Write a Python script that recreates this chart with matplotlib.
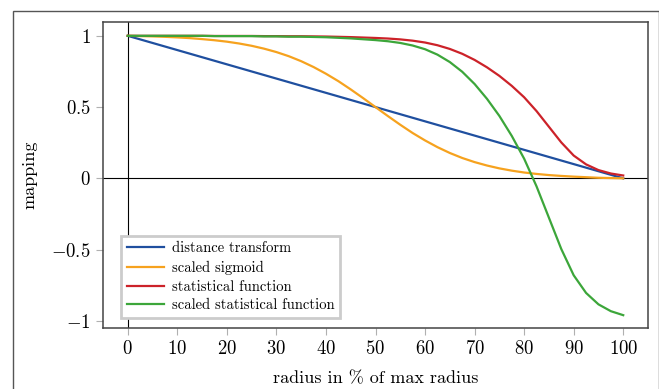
import matplotlib
matplotlib.use("Agg")
import matplotlib.pyplot as plt
from matplotlib.patches import Rectangle

plt.rcParams['font.family'] = 'serif'
plt.rcParams['font.serif'] = ['cmr10']
plt.rcParams['mathtext.fontset'] = 'cm'
plt.rcParams['axes.unicode_minus'] = False

# radius in % of max radius (sample grid)
radius = [0, 2.5, 5, 7.5, 10, 12.5, 15, 17.5, 20, 22.5, 25, 27.5, 30, 32.5, 35, 37.5,
          40, 42.5, 45, 47.5, 50, 52.5, 55, 57.5, 60, 62.5, 65, 67.5, 70, 72.5, 75,
          77.5, 80, 82.5, 85, 87.5, 90, 92.5, 95, 97.5, 100]

dist_x = [0, 100]
dist_y = [1.0, 0.0]

sigmoid = [1.0, 0.998, 0.996, 0.993, 0.989, 0.984, 0.977, 0.969, 0.959, 0.946, 0.930,
           0.910, 0.886, 0.857, 0.822, 0.781, 0.734, 0.682, 0.624, 0.563, 0.5, 0.437,
           0.376, 0.318, 0.266, 0.219, 0.178, 0.143, 0.114, 0.090, 0.070, 0.054, 0.041,
           0.031, 0.023, 0.017, 0.012, 0.008, 0.004, 0.002, 0.0]

stat = [1.0, 1.0, 1.0, 1.0, 1.0, 1.0, 1.0, 0.999, 0.999, 0.999, 0.999, 0.998, 0.998,
        0.997, 0.997, 0.996, 0.995, 0.993, 0.991, 0.988, 0.985, 0.981, 0.975, 0.966,
        0.953, 0.934, 0.908, 0.874, 0.831, 0.779, 0.719, 0.649, 0.569, 0.472, 0.362,
        0.252, 0.16, 0.098, 0.058, 0.034, 0.02]

scaled_stat = [1.0, 1.0, 1.0, 1.0, 1.0, 1.0, 1.0, 0.998, 0.998, 0.998, 0.998, 0.996,
               0.996, 0.994, 0.994, 0.992, 0.99, 0.986, 0.982, 0.976, 0.97, 0.962, 0.95,
               0.932, 0.906, 0.868, 0.816, 0.748, 0.662, 0.558, 0.438, 0.298, 0.138,
               -0.056, -0.276, -0.496, -0.68, -0.804, -0.884, -0.932, -0.96]

labels = ['distance transform', 'scaled sigmoid', 'statistical function',
          'scaled statistical function']
colors = ['#1f4f9f', '#f6a21e', '#cc2229', '#3ca63a']

fig = plt.figure(figsize=(6.59, 3.89), dpi=100)
fig.patches.append(Rectangle((13 / 659, -0.2), 645.5 / 659, 0.2 + 1 - 11 / 389,
                             transform=fig.transFigure, fill=False,
                             edgecolor='#555555', lw=1.0))
ax = fig.add_axes([103 / 659, 1 - 328 / 389, 545 / 659, 306 / 389])

ax.axhline(0, color='black', lw=0.8, zorder=1)
ax.axvline(0, color='black', lw=0.8, zorder=1)

lw = 1.6
ax.plot(dist_x, dist_y, color=colors[0], lw=lw, label=labels[0])
ax.plot(radius, sigmoid, color=colors[1], lw=lw, label=labels[1])
ax.plot(radius, stat, color=colors[2], lw=lw, label=labels[2])
ax.plot(radius, scaled_stat, color=colors[3], lw=lw, label=labels[3])

ax.set_xlim(-5, 105)
ax.set_ylim(-1.05, 1.097)
xt = list(range(0, 101, 10))
ax.set_xticks(xt, labels=['$%d$' % v for v in xt])
yt = [-1, -0.5, 0, 0.5, 1]
ax.set_yticks(yt, labels=['$-1$', '$-0.5$', '$0$', '$0.5$', '$1$'])
ax.tick_params(direction='out', length=5, width=0.8, color='#b0b0b0',
               labelsize=13.5, pad=4)
for s in ax.spines.values():
    s.set_color('#444444')
    s.set_linewidth(1.1)

ax.set_xlabel('radius in % of max radius', fontsize=13, labelpad=9)
ax.set_ylabel('mapping', fontsize=13, labelpad=10)

leg = ax.legend(loc='lower left', bbox_to_anchor=(0.0325, 0.0317), borderaxespad=0,
                fontsize=10.5, fancybox=False, framealpha=1, edgecolor='#cccccc',
                handlelength=2.6, handletextpad=0.5, labelspacing=0.35,
                borderpad=0.4)
leg.get_frame().set_linewidth(2.0)

fig.savefig('out.png', dpi=100)
